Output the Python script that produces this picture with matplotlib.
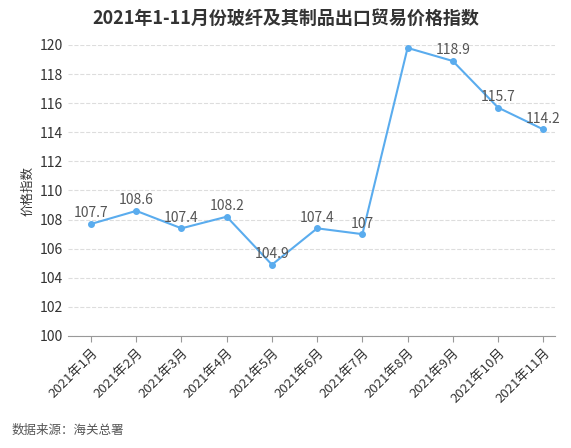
import matplotlib
matplotlib.use("Agg")
import matplotlib.pyplot as plt

plt.rcParams['font.family'] = ['Noto Sans CJK SC', 'DejaVu Sans']

months = ["2021年1月","2021年2月","2021年3月","2021年4月","2021年5月","2021年6月",
          "2021年7月","2021年8月","2021年9月","2021年10月","2021年11月"]
values = [107.7,108.6,107.4,108.2,104.9,107.4,107,119.8,118.9,115.7,114.2]
labels = ["107.7","108.6","107.4","108.2","104.9","107.4","107","","118.9","115.7","114.2"]

fig = plt.figure(figsize=(5.71,4.48), dpi=100)
ax = fig.add_axes([68/571, 1-336/448, (555-68)/571, (336-45)/448])
x = range(len(months))
ax.plot(x, values, color='#5aacee', lw=1.5, marker='o', ms=4)
for i,(v,l) in enumerate(zip(values,labels)):
    if l:
        ax.text(i, v+0.25, l, ha='center', va='bottom', fontsize=10, color='#555555')
ax.set_ylim(100,120)
ax.set_yticks(range(100,121,2))
ax.set_xlim(-0.51, 10.26)
ax.set_xticks(list(x))
ax.set_xticklabels(months, rotation=45, ha='right', rotation_mode='anchor', fontsize=9.5, color='#333333')
ax.tick_params(axis='y', labelsize=10, colors='#333333', length=0)
ax.tick_params(axis='x', length=4, color='#999999')
ax.grid(axis='y', ls='--', color='#dddddd', lw=0.8)
for s in ['top','right','left']:
    ax.spines[s].set_visible(False)
ax.spines['bottom'].set_color('#999999')
ax.set_ylabel("价格指数", fontsize=9, color='#333333')
fig.text(0.5, 1-18/448, "2021年1-11月份玻纤及其制品出口贸易价格指数", ha='center', va='center',
         fontsize=13, fontweight='bold', color='#333333')
fig.text(12/571, 1-430/448, "数据来源：海关总署", fontsize=9, color='#555555', va='center')
fig.savefig("out.png", dpi=100)
